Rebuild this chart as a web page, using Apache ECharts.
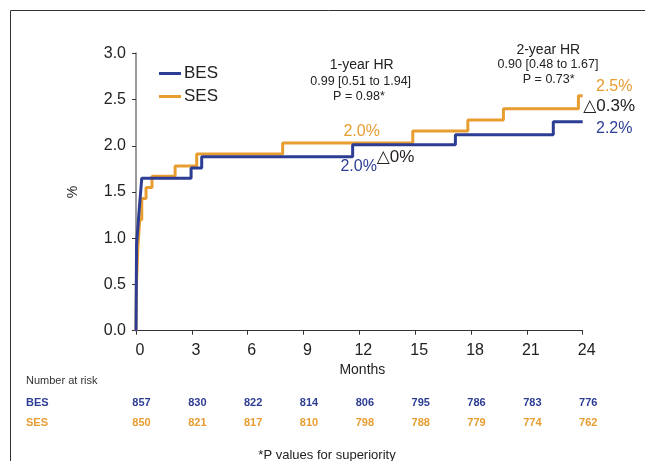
<!DOCTYPE html>
<html>
<head>
<meta charset="utf-8">
<script src="https://cdn.jsdelivr.net/npm/echarts@6/dist/echarts.min.js"></script>
<style>
html,body{margin:0;padding:0;background:#fff;}
#chart{width:645px;height:461px;}
</style>
</head>
<body>
<div id="chart"></div>
<script>
// ---- data ----
const seriesNames = ['BES', 'SES'];
const besTime = [0, 0.03, 0.12, 0.18, 0.25, 0.31, 2.96, 3.53, 11.64, 17.16, 22.42, 24];
const besRate = [0, 0.93, 1.17, 1.33, 1.50, 1.65, 1.76, 1.88, 2.01, 2.12, 2.26, 2.26];
const sesTime = [0, 0.02, 0.10, 0.20, 0.31, 0.54, 0.86, 2.10, 3.26, 7.88, 14.87, 17.83, 19.74, 23.77, 24];
const sesRate = [0, 0.48, 0.90, 1.20, 1.43, 1.55, 1.67, 1.78, 1.91, 2.03, 2.16, 2.28, 2.40, 2.54, 2.54];
const xTicks = [0, 3, 6, 9, 12, 15, 18, 21, 24];
const riskMonths = [0, 3, 6, 9, 12, 15, 18, 21, 24];
const besAtRisk = [857, 830, 822, 814, 806, 795, 786, 783, 776];
const sesAtRisk = [850, 821, 817, 810, 798, 788, 779, 774, 762];

const BLUE = '#2D3D94';
const ORANGE = '#E89D31';
const FONT = '"Liberation Sans", Arial, "DejaVu Sans", sans-serif';

const chart = echarts.init(document.getElementById('chart'), null, {renderer: 'canvas'});

function txt(text, x, y, size, color, align, weight) {
  return {
    type: 'text', silent: true, z: 50,
    style: {
      text: text, x: x, y: y,
      font: (weight || 'normal') + ' ' + size + 'px ' + FONT,
      fill: color,
      textAlign: align || 'center', textVerticalAlign: 'middle',
      align: align || 'center', verticalAlign: 'middle'
    }
  };
}

const option = {
  animation: false,
  backgroundColor: '#fff',
  textStyle: {fontFamily: FONT},
  grid: {left: 136, right: 62.3, top: 53.3, bottom: 130.3, containLabel: false},
  legend: {
    data: seriesNames,
    orient: 'vertical',
    left: 159, top: 65,
    itemWidth: 22, itemHeight: 14, itemGap: 6,
    icon: 'path://M0,0M0,5.5H22V8.5H0ZM22,14',
    textStyle: {fontSize: 17, color: '#222', fontFamily: FONT, lineHeight: 14, padding: [0, 0, 0, -2]},
    padding: 0
  },
  xAxis: {
    type: 'value', min: 0, max: 24, interval: 3,
    name: 'Months', nameLocation: 'middle', nameGap: 32,
    nameTextStyle: {fontSize: 14, color: '#222', fontFamily: FONT, padding: [0, 0, 0, 6]},
    axisLine: {show: true, lineStyle: {color: '#333', width: 1}},
    axisTick: {show: true, length: 4, lineStyle: {color: '#333'}},
    axisLabel: {fontSize: 16, color: '#222', margin: 12, padding: [0, 0, 0, 8], fontFamily: FONT},
    splitLine: {show: false}
  },
  yAxis: {
    type: 'value', min: 0, max: 3, interval: 0.5,
    name: '%', nameLocation: 'middle', nameGap: 56, nameRotate: 90,
    nameTextStyle: {fontSize: 14, color: '#222', fontFamily: FONT},
    axisLine: {show: true, lineStyle: {color: '#999', width: 2}},
    axisTick: {show: true, length: 4, lineStyle: {color: '#333'}},
    axisLabel: {fontSize: 16, color: '#222', margin: 10, fontFamily: FONT,
      formatter: v => v.toFixed(1)},
    splitLine: {show: false}
  },
  series: [
    {
      name: 'SES', type: 'line', step: 'end', symbol: 'none',
      data: sesTime.map((t, i) => [t, sesRate[i]]),
      lineStyle: {color: ORANGE, width: 3}, itemStyle: {color: ORANGE}, z: 2
    },
    {
      name: 'BES', type: 'line', step: 'end', symbol: 'none',
      data: besTime.map((t, i) => [t, besRate[i]]),
      lineStyle: {color: BLUE, width: 3}, itemStyle: {color: BLUE}, z: 3
    }
  ],
  graphic: []
};
chart.setOption(option);

// annotations and number-at-risk table
const g = [];
g.push({type: 'rect', silent: true, z: 0, shape: {x: 10.5, y: 10.5, width: 800, height: 600},
  style: {fill: 'none', stroke: '#333', lineWidth: 1}});
g.push(txt('1-year HR', 361.7, 65, 14, '#222'));
g.push(txt('0.99 [0.51 to 1.94]', 360.7, 81.7, 12.5, '#222'));
g.push(txt('P = 0.98*', 359, 96.7, 12.5, '#222'));
g.push(txt('2-year HR', 548.3, 50, 14, '#222'));
g.push(txt('0.90 [0.48 to 1.67]', 548, 65, 12.5, '#222'));
g.push(txt('P = 0.73*', 548.7, 80, 12.5, '#222'));
g.push(txt('2.5%', 596, 86.7, 16, ORANGE, 'left'));
g.push(txt('\u25B30.3%', 583.3, 106.7, 17, '#222', 'left'));
g.push(txt('2.2%', 596, 128.3, 16, BLUE, 'left'));
g.push(txt('2.0%', 361.7, 131.7, 16, ORANGE));
g.push(txt('2.0%', 358.7, 166.7, 16, BLUE));
g.push(txt('\u25B30%', 376.7, 157.3, 17, '#222', 'left'));
g.push(txt('Number at risk', 26, 380.7, 11, '#333', 'left'));
g.push(txt('BES', 26, 403.3, 11, BLUE, 'left', 'bold'));
g.push(txt('SES', 26, 422.7, 11, ORANGE, 'left', 'bold'));
riskMonths.forEach((m, i) => {
  const px = chart.convertToPixel({xAxisIndex: 0}, m) + 5.5;
  g.push(txt(String(besAtRisk[i]), px, 403.3, 11, BLUE, 'center', 'bold'));
  g.push(txt(String(sesAtRisk[i]), px, 422.7, 11, ORANGE, 'center', 'bold'));
});
g.push(txt('*P values for superiority', 327, 455, 13, '#222'));
chart.setOption({graphic: g});
</script>
</body>
</html>
